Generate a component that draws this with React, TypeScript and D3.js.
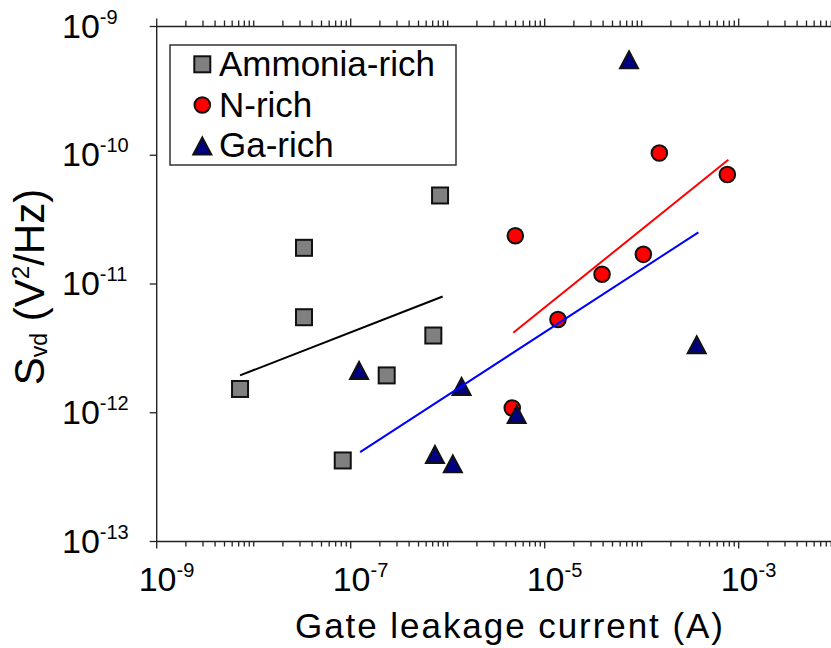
import React from "react";
import * as d3 from "d3";

// ---- data ----
const ammoniaX = [8.34e-7, 3.3e-8, 3.3e-8, 7.11e-7, 2.35e-7, 7.23e-9, 8.28e-8];
const ammoniaY = [4.87e-11, 1.91e-11, 5.52e-12, 3.98e-12, 1.95e-12, 1.53e-12, 4.26e-13];

const nRichX = [1.52e-4, 7.64e-4, 4.98e-6, 1.04e-4, 3.9e-5, 1.37e-5, 4.63e-6];
const nRichY = [1.04e-10, 7.09e-11, 2.37e-11, 1.7e-11, 1.19e-11, 5.3e-12, 1.09e-12];

const gaRichX = [7.4e-5, 1.22e-7, 1.39e-6, 7.39e-7, 1.13e-6, 5.14e-6, 3.69e-4];
const gaRichY = [5.51e-10, 2.13e-12, 1.6e-12, 4.74e-13, 4.01e-13, 9.69e-13, 3.37e-12];

// trend lines (power-law fits, endpoints)
const ammoniaFitX = [7.23e-9, 8.87e-7];
const ammoniaFitY = [1.95e-12, 8.0e-12];
const nRichFitX = [4.74e-6, 7.82e-4];
const nRichFitY = [4.18e-12, 9.22e-11];
const gaRichFitX = [1.25e-7, 3.84e-4];
const gaRichFitY = [4.94e-13, 2.52e-11];

const xLabelExps = [-9, -7, -5, -3];
const yLabelExps = [-9, -10, -11, -12, -13];
const legendLabels = ["Ammonia-rich", "N-rich", "Ga-rich"];

const FONT = "'Liberation Sans', Arial, Helvetica, sans-serif";

export default function App() {
  const W = 831;
  const H = 648;
  const x = d3.scaleLog().domain([1e-9, 1e-2]).range([156.7, 835.7]);
  const y = d3.scaleLog().domain([1e-13, 1e-9]).range([541.5, 26.5]);

  const xTicks = x.ticks();
  const isMajorX = (v: number) => {
    const e = Math.log10(v);
    return Math.abs(e - Math.round(e)) < 1e-6 && xLabelExps.includes(Math.round(e));
  };

  const line = d3
    .line<[number, number]>()
    .x((d) => x(d[0]))
    .y((d) => y(d[1]));

  const pts = (xs: number[], ys: number[]) => xs.map((v, i) => [v, ys[i]] as [number, number]);

  const square = (cx: number, cy: number, key: string) => (
    <rect key={key} x={cx - 8} y={cy - 8} width={16} height={16} fill="#808080" stroke="#111" strokeWidth={2} />
  );
  const circle = (cx: number, cy: number, key: string) => (
    <circle key={key} cx={cx} cy={cy} r={7.8} fill="#ff0000" stroke="#111" strokeWidth={2} />
  );
  const triangle = (cx: number, cy: number, key: string) => (
    <path
      key={key}
      d={`M${cx},${cy - 8.5} L${cx + 9},${cy + 8.5} L${cx - 9},${cy + 8.5} Z`}
      fill="#000080"
      stroke="#111"
      strokeWidth={2}
      strokeLinejoin="miter"
    />
  );

  const axisColor = "#222";
  const x0 = x.range()[0];
  const x1 = x.range()[1];
  const yTop = y.range()[1];
  const yBot = y.range()[0];

  return (
    <svg width={W} height={H} style={{ position: "absolute", left: 0, top: 0, background: "#fff" }} fontFamily={FONT}>
      <rect x={0} y={0} width={W} height={H} fill="#fff" />

      {/* bottom axis */}
      <line x1={x0} x2={x1} y1={yBot} y2={yBot} stroke={axisColor} strokeWidth={1.4} />
      {xTicks.map((t, i) => (
        <line key={"bt" + i} x1={x(t)} x2={x(t)} y1={yBot} y2={yBot + (isMajorX(t) ? 7 : 5)} stroke={axisColor} strokeWidth={1.3} />
      ))}
      {/* top axis */}
      <line x1={x0} x2={x1} y1={yTop} y2={yTop} stroke={axisColor} strokeWidth={1.4} />
      {xTicks.map((t, i) => (
        <line key={"tt" + i} x1={x(t)} x2={x(t)} y1={yTop} y2={yTop - (isMajorX(t) ? 8 : 6)} stroke={axisColor} strokeWidth={1.3} />
      ))}
      {/* left axis */}
      <line x1={x0} x2={x0} y1={yTop} y2={yBot} stroke={axisColor} strokeWidth={1.4} />
      {yLabelExps.map((e) => (
        <line key={"yt" + e} x1={x0 - 7} x2={x0} y1={y(Math.pow(10, e))} y2={y(Math.pow(10, e))} stroke={axisColor} strokeWidth={1.3} />
      ))}

      {/* x tick labels */}
      {xLabelExps.map((e) => {
        const px = x(Math.pow(10, e));
        return (
          <text key={"xl" + e} x={px - 18} y={591} fontSize={34} fill="#000">
            10
            <tspan fontSize={20} dy={-14}>{`-${-e}`}</tspan>
          </text>
        );
      })}
      {/* y tick labels */}
      {yLabelExps.map((e) => {
        const py = y(Math.pow(10, e));
        return (
          <text key={"yl" + e} x={62} y={py + 11} fontSize={34} fill="#000">
            10
            <tspan fontSize={20} dy={-14}>{`-${-e}`}</tspan>
          </text>
        );
      })}

      {/* axis titles */}
      <text x={509} y={638} fontSize={35} textAnchor="middle" fill="#000" textLength={428} lengthAdjust="spacing">
        Gate leakage current (A)
      </text>
      <text transform="translate(44,287) rotate(-90)" fontSize={42} textAnchor="middle" fill="#000">
        S<tspan fontSize={23} dy={3}>vd</tspan>
        <tspan dy={-3}>{" (V"}</tspan>
        <tspan fontSize={24} dy={-15}>2</tspan>
        <tspan dy={15}>/Hz)</tspan>
      </text>

      {/* data points */}
      <g>{pts(ammoniaX, ammoniaY).map((d, i) => square(x(d[0]), y(d[1]), "a" + i))}</g>
      <g>{pts(nRichX, nRichY).map((d, i) => circle(x(d[0]), y(d[1]), "n" + i))}</g>
      <g>{pts(gaRichX, gaRichY).map((d, i) => triangle(x(d[0]), y(d[1]), "g" + i))}</g>

      {/* trend lines */}
      <path d={line(pts(ammoniaFitX, ammoniaFitY)) || ""} stroke="#000" strokeWidth={2} fill="none" />
      <path d={line(pts(nRichFitX, nRichFitY)) || ""} stroke="#ff0000" strokeWidth={2} fill="none" />
      <path d={line(pts(gaRichFitX, gaRichFitY)) || ""} stroke="#0000ff" strokeWidth={2} fill="none" />

      {/* legend */}
      <rect x={170} y={45} width={286} height={120} fill="#fff" stroke="#333" strokeWidth={1.5} />
      {square(202.3, 64.3, "la")}
      {circle(202.3, 105, "ln")}
      {triangle(202.3, 146, "lg")}
      {legendLabels.map((l, i) => (
        <text key={l} x={219} y={76 + i * 40.5} fontSize={35} fill="#000">
          {l}
        </text>
      ))}
    </svg>
  );
}
